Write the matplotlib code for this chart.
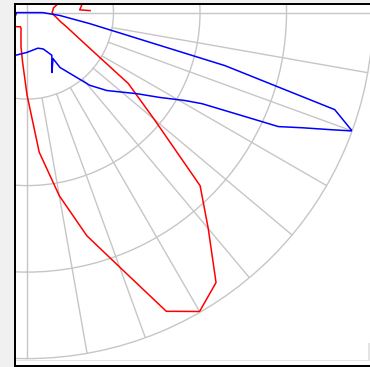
import numpy as np
import matplotlib
matplotlib.use("Agg")
import matplotlib.pyplot as plt
from matplotlib.patches import Rectangle

# ---------------- data (angle in degrees from nadir, intensity in cd) ----------------
ring_values = [100, 200, 300]
r_max = 400
spoke_angles = list(range(0, 360, 10))
axis_angles = [0, 90, 180, 270]

red_angles = [-60, -50, -40, -30, -25, -20, -15, -10, -5, 0, 5, 10, 15, 20, 25, 30,
              35, 40, 45, 50, 55, 60, 65, 70, 75, 80, 85, 90, 95, 100, 105, 110,
              115, 105, 98, 93, 91.8]
red_values = [32, 25, 21, 19, 18, 20, 27, 40, 58, 95, 162, 215, 267, 313, 381, 399,
              381, 326, 283, 192, 143, 86, 62, 49, 40, 35, 31, 29, 30, 31, 36, 44,
              46, 69, 64, 61, 73]

blue_angles = [-75, -30, -16.8, 0, 17, 24, 30.2, 22.6, 29.5, 31, 37.6, 40.8, 45.7,
               53.6, 57.4, 60.9, 62.5, 64.1, 65.2, 65.6, 67.3, 69, 70, 72.5, 75,
               80, 85, 90, -90, -75]
blue_values = [14, 62, 52, 46, 43, 46, 57, 75, 61, 74, 95, 111, 129,
               158, 182, 209, 228, 267, 303, 319, 345, 378, 400, 373, 237,
               74, 38, 18, 12, 14]

# ---------------- figure ----------------
W, H, DPI = 370, 367, 100
fig = plt.figure(figsize=(W / DPI, H / DPI), dpi=DPI, facecolor="white")

ox, oy = 27.0, 12.6      # pole position (px from top-left)
R = 346.0                # px radius of r_max ring
ax = fig.add_axes([(ox - R) / W, (H - oy - R) / H, 2 * R / W, 2 * R / H],
                  projection="polar")
ax.set_facecolor("white")
ax.set_theta_zero_location("S")
ax.set_theta_direction(1)
ax.set_ylim(0, r_max)
ax.set_rgrids(ring_values)
ax.set_yticklabels([])
ax.set_xticklabels([])
ax.tick_params(length=0)

grid_color = "#c6c6c6"
ax.xaxis.grid(False)
ax.yaxis.grid(True, color=grid_color, lw=1.0)
ax.spines["polar"].set_color(grid_color)
ax.spines["polar"].set_linewidth(1.0)

for a in spoke_angles:
    t = np.deg2rad(a)
    r0 = 0 if a in axis_angles else ring_values[0]
    ax.plot([t, t], [r0, r_max], color=grid_color, lw=1.0, zorder=1)

ax.plot(np.deg2rad(red_angles), red_values, color="#ff0000", lw=1.1, zorder=3)
ax.plot(np.deg2rad(blue_angles), blue_values, color="#0000ff", lw=1.1, zorder=3)


# ---------------- window frame ----------------
def px_rect(x0, y0, x1, y1, color):
    fig.add_artist(Rectangle((x0 / W, 1 - y1 / H), (x1 - x0) / W, (y1 - y0) / H,
                             transform=fig.transFigure, facecolor=color,
                             edgecolor="none", zorder=10))


px_rect(0, 0, 13.5, H, "#f0f0f0")
px_rect(0, 0, W, 3.5, "#f0f0f0")
px_rect(0, 366.5, W, H, "#f0f0f0")
px_rect(15.5, 359.5, 368, 361, "#e4e4e4")
px_rect(368, 343, 369.5, 361, "#e4e4e4")
px_rect(13.5, 3.5, 15.5, 366.5, "#000000")
px_rect(13.5, 3.5, W, 5.0, "#000000")
px_rect(13.5, 364.8, W, 366.5, "#000000")

fig.savefig("out.png", dpi=DPI, facecolor="white")
